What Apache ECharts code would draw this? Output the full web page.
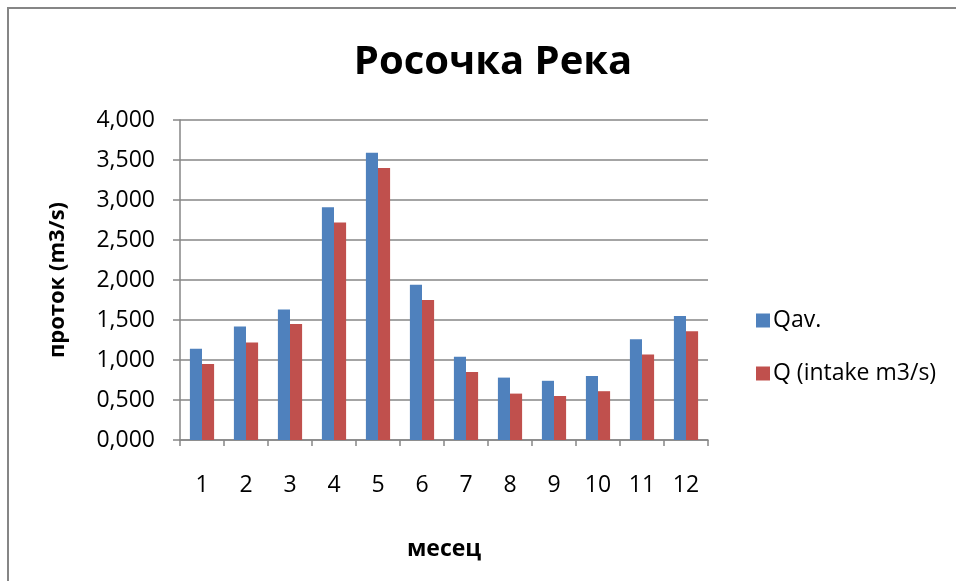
<!DOCTYPE html>
<html>
<head>
<meta charset="utf-8">
<script src="https://cdn.jsdelivr.net/npm/echarts@6/dist/echarts.min.js"></script>
<style>
  html, body { margin: 0; padding: 0; background: #ffffff; }
  #chart { width: 956px; height: 581px; }
</style>
</head>
<body>
<div id="chart"></div>
<script>
// Monthly flow of the Rosočka river: mean flow and intake flow (m3/s)
const months = ['1', '2', '3', '4', '5', '6', '7', '8', '9', '10', '11', '12'];
const qAvg = [1.14, 1.42, 1.63, 2.91, 3.59, 1.94, 1.04, 0.78, 0.74, 0.80, 1.26, 1.55];
const qIntake = [0.95, 1.22, 1.45, 2.72, 3.40, 1.75, 0.85, 0.58, 0.55, 0.61, 1.07, 1.36];
const seriesNames = ['Qav.', 'Q (intake m3/s)'];

const font = '"Open Sans", "Noto Sans", sans-serif';
const axisGray = '#868686';

const chart = echarts.init(document.getElementById('chart'), null, { renderer: 'canvas' });

chart.setOption({
  backgroundColor: '#ffffff',
  animation: false,
  title: {
    text: 'Росочка Река',
    left: 488,
    top: 38,
    textAlign: 'center',
    textStyle: { fontFamily: font, fontSize: 40, fontWeight: 'bold', color: '#000000' }
  },
  graphic: [
    // chart frame (only its top and left edges fall inside the view)
    {
      type: 'rect',
      shape: { x: 8, y: 8, width: 1000, height: 700 },
      style: { fill: 'none', stroke: axisGray, lineWidth: 2 },
      silent: true
    }
  ],
  legend: {
    orient: 'vertical',
    left: 751,
    top: 304,
    itemWidth: 14,
    itemHeight: 14,
    itemGap: 30,
    icon: 'rect',
    textStyle: { fontFamily: font, fontSize: 23, color: '#000000', padding: [0, 0, 0, -2] },
    data: seriesNames
  },
  grid: { left: 180, right: 248, top: 120, bottom: 141, containLabel: false },
  xAxis: {
    type: 'category',
    data: months,
    name: 'месец',
    nameLocation: 'middle',
    nameGap: 98,
    nameTextStyle: { fontFamily: font, fontSize: 23, fontWeight: 'bold', color: '#000000' },
    axisLine: { lineStyle: { color: axisGray, width: 1.5 } },
    axisTick: { show: true, length: 6, lineStyle: { color: axisGray, width: 1.5 } },
    axisLabel: { fontFamily: font, fontSize: 23, color: '#000000', margin: 34 },
    splitLine: { show: false }
  },
  yAxis: {
    type: 'value',
    min: 0,
    max: 4,
    interval: 0.5,
    name: 'проток (m3/s)',
    nameLocation: 'middle',
    nameRotate: 90,
    nameGap: 111,
    nameTextStyle: { fontFamily: font, fontSize: 22, fontWeight: 'bold', color: '#000000' },
    axisLine: { show: true, lineStyle: { color: axisGray, width: 1.5 } },
    axisTick: { show: true, length: 7, lineStyle: { color: axisGray, width: 1.5 } },
    axisLabel: {
      fontFamily: font,
      fontSize: 23,
      color: '#000000',
      margin: 25,
      formatter: v => v.toFixed(3).replace('.', ',')
    },
    splitLine: { show: true, lineStyle: { color: axisGray, width: 1.5 } }
  },
  series: [
    {
      name: seriesNames[0],
      type: 'bar',
      data: qAvg,
      barGap: '0%',
      barCategoryGap: '45%',
      itemStyle: { color: '#4F81BD' }
    },
    {
      name: seriesNames[1],
      type: 'bar',
      data: qIntake,
      barGap: '0%',
      barCategoryGap: '45%',
      itemStyle: { color: '#C0504D' }
    }
  ]
});
</script>
</body>
</html>
